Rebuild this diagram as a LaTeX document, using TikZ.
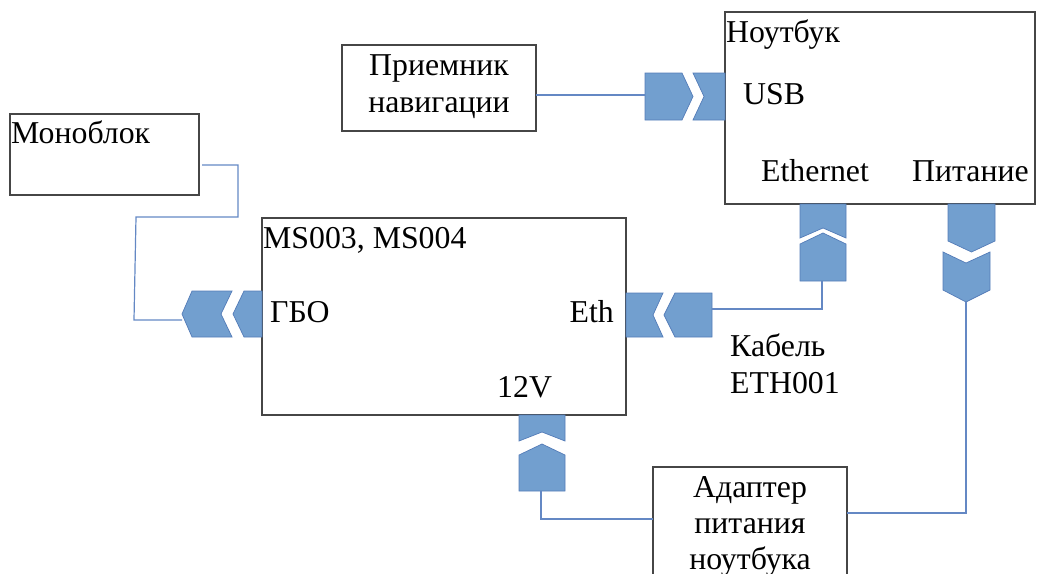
\documentclass[tikz,border=0pt]{standalone}
\usepackage{fontspec}
\setmainfont{Liberation Serif}
\begin{document}
\begin{tikzpicture}[x=1pt,y=-1pt,
  box/.style={draw={rgb,255:red,70;green,70;blue,70},line width=1.3pt},
  lbl/.style={inner sep=0pt,font=\fontsize{31.8}{37}\selectfont},
  wire/.style={draw={rgb,255:red,100;green,136;blue,196},line width=1.2pt},
  plug/.style={fill={rgb,255:red,114;green,159;blue,207},draw={rgb,255:red,84;green,124;blue,184},line width=0.7pt,line join=miter}]
\useasboundingbox (0,0) rectangle (1051,573);
\clip (0,0) rectangle (1051,573);
% boxes
\draw[box] (10,114) rectangle (199,195);
\draw[box] (342,45) rectangle (536,131);
\draw[box] (725,12) rectangle (1035,204);
\draw[box] (262,218) rectangle (626,415);
\draw[box] (653,580) -- (653,467) -- (847,467) -- (847,580);
% texts
\node[lbl,anchor=base west] (tmono) at (11,143) {Моноблок};
\node[lbl,anchor=base] (tpr1) at (439,75) {Приемник};
\node[lbl,anchor=base] (tpr2) at (439,112) {навигации};
\node[lbl,anchor=base west] (tnb) at (726,42) {Ноутбук};
\node[lbl,anchor=base west] (tusb) at (743,104) {USB};
\node[lbl,anchor=base west] (teth) at (761,181) {Ethernet};
\node[lbl,anchor=base west] (tpit) at (912,181) {Питание};
\node[lbl,anchor=base west] (tms) at (263,248) {MS003, MS004};
\node[lbl,anchor=base west] (tgbo) at (270,322) {ГБО};
\node[lbl,anchor=base east] (teth2) at (614,322) {Eth};
\node[lbl,anchor=base west] (t12) at (497,397) {12V};
\node[lbl,anchor=base west] (tcab1) at (730,356) {Кабель};
\node[lbl,anchor=base west] (tcab2) at (730,393) {ETH001};
\node[lbl,anchor=base] (tad1) at (750,497) {Адаптер};
\node[lbl,anchor=base] (tad2) at (750,533) {питания};
\node[lbl,anchor=base] (tad3) at (750,569) {ноутбука};
% USB plugs
\draw[plug] (645,73) -- (682,73) -- (693,96.5) -- (682,120) -- (645,120) -- cycle;
\draw[plug] (693,73) -- (725,73) -- (725,120) -- (693,120) -- (704,96.5) -- cycle;
% GBO plugs
\draw[plug] (192,291) -- (232,291) -- (221,314) -- (232,337) -- (192,337) -- (182,314) -- cycle;
\draw[plug] (233,314) -- (244,291) -- (262,291) -- (262,337) -- (244,337) -- cycle;
% Eth plugs
\draw[plug] (626,293) -- (663,293) -- (653,315) -- (663,337) -- (626,337) -- cycle;
\draw[plug] (664,315) -- (675,293) -- (712,293) -- (712,337) -- (675,337) -- cycle;
% Ethernet plugs
\draw[plug] (800,204) -- (846,204) -- (846,238) -- (823,228) -- (800,238) -- cycle;
\draw[plug] (800,244) -- (823,233) -- (846,244) -- (846,281) -- (800,281) -- cycle;
% Pitanie plugs
\draw[plug] (948,204) -- (995,204) -- (995,241) -- (971.5,252) -- (948,241) -- cycle;
\draw[plug] (943,252) -- (966,263) -- (990,252) -- (990,290) -- (966,302) -- (943,290) -- cycle;
% 12V plugs
\draw[plug] (519,415) -- (565,415) -- (565,441) -- (542,432) -- (519,441) -- cycle;
\draw[plug] (519,455) -- (542,444) -- (565,455) -- (565,491) -- (519,491) -- cycle;
% wire endpoints
\coordinate (m1) at (202,165);
\coordinate (m2) at (182,320);
\coordinate (p1) at (536,95);
\coordinate (p2) at (645,95);
\coordinate (e1) at (712,309);
\coordinate (e2) at (822,281);
\coordinate (a1) at (847,513);
\coordinate (a2) at (966,302);
\coordinate (v1) at (541,491);
\coordinate (v2) at (653,519);
% wires
\draw[wire] (m1) -- (238,165) -- (238,217) -- (136,217) -- (134,320) -- (m2);
\draw[wire] (p1) -- (p2);
\draw[wire] (e1) -| (e2);
\draw[wire] (a1) -| (a2);
\draw[wire] (v1) |- (v2);
\end{tikzpicture}
\end{document}
